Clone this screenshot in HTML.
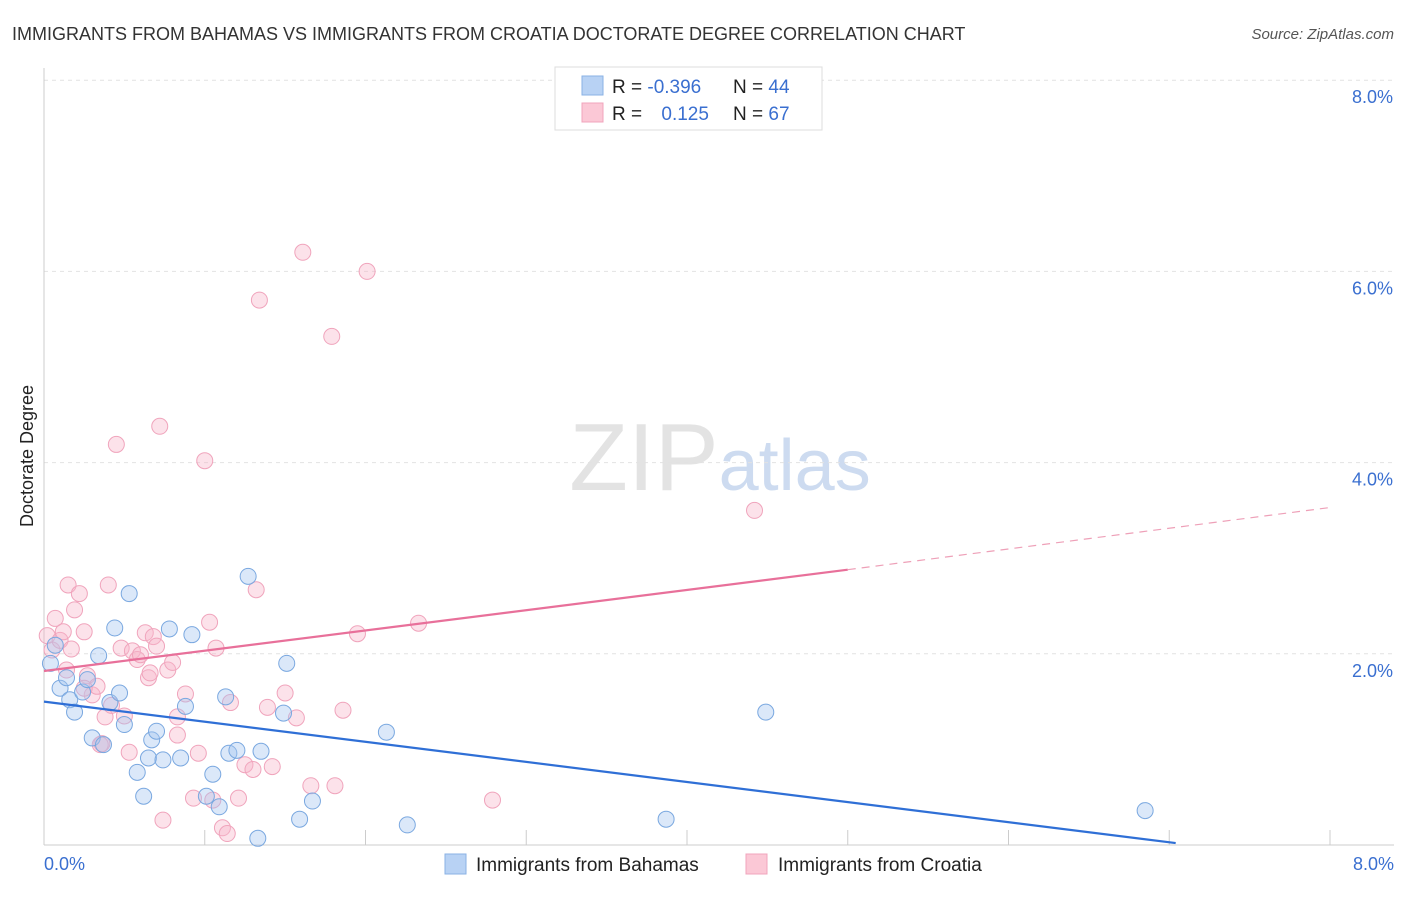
<!DOCTYPE html>
<html><head><meta charset="utf-8">
<style>
body{margin:0;background:#fff;font-family:"Liberation Sans",sans-serif;}
svg text{font-family:"Liberation Sans",sans-serif;}
</style></head>
<body>
<svg id="chart" width="1406" height="892" xmlns="http://www.w3.org/2000/svg">
<text x="12" y="40" font-size="18" fill="#333">IMMIGRANTS FROM BAHAMAS VS IMMIGRANTS FROM CROATIA DOCTORATE DEGREE CORRELATION CHART</text>
<text x="1394" y="39" font-size="15" fill="#555" text-anchor="end" font-style="italic">Source: ZipAtlas.com</text>
<text x="720" y="490" font-size="96" text-anchor="middle" fill="#d8d8d8" font-family="Liberation Serif" opacity="0.7">ZIP<tspan fill="#b8cdea" font-family="Liberation Sans" font-size="72">atlas</tspan></text>
<text transform="translate(33,456) rotate(-90)" font-size="18" fill="#222" text-anchor="middle">Doctorate Degree</text>
<g id="grid"></g><g id="marks"></g><g id="lines"></g>
<g>
<rect x="555" y="67" width="267" height="63" fill="#fff" stroke="#ddd"/>
<rect x="582" y="76" width="21" height="19" fill="#b8d2f4" stroke="#8ab2e4"/>
<rect x="582" y="103" width="21" height="19" fill="#fbc8d6" stroke="#f0a4bc"/>
<text x="612" y="93" font-size="19" fill="#222">R = <tspan fill="#3a6fd0">-0.396</tspan></text>
<text x="733" y="93" font-size="19" fill="#222">N = <tspan fill="#3a6fd0">44</tspan></text>
<text x="612" y="120" font-size="19" fill="#222">R = <tspan fill="#3a6fd0" dx="14">0.125</tspan></text>
<text x="733" y="120" font-size="19" fill="#222">N = <tspan fill="#3a6fd0">67</tspan></text>
</g>
<g>
<rect x="445" y="854" width="21" height="20" fill="#b8d2f4" stroke="#8ab2e4"/>
<text x="476" y="871" font-size="19" fill="#222">Immigrants from Bahamas</text>
<rect x="746" y="854" width="21" height="20" fill="#fbc8d6" stroke="#f0a4bc"/>
<text x="778" y="871" font-size="19" fill="#222">Immigrants from Croatia</text>
</g>
</svg>
<script>
const xTicks=[0,1,2,3,4,5,6,7,8];
const yTicks=[2,4,6,8];
const yTickLabels=["2.0%","4.0%","6.0%","8.0%"];
const xEndLabels=["0.0%","8.0%"];
const bahamasX=[0.04,0.07,0.10,0.14,0.16,0.19,0.24,0.27,0.30,0.34,0.37,0.41,0.44,0.47,0.50,0.53,0.58,0.62,0.65,0.67,0.70,0.74,0.78,0.85,0.88,0.92,1.05,1.01,1.09,1.13,1.15,1.20,1.27,1.33,1.35,1.49,1.51,1.59,1.67,2.13,2.26,3.87,4.49,6.85];
const bahamasY=[1.90,2.09,1.64,1.75,1.52,1.39,1.60,1.73,1.12,1.98,1.05,1.49,2.27,1.59,1.26,2.63,0.76,0.51,0.91,1.10,1.19,0.89,2.26,0.91,1.45,2.20,0.74,0.51,0.40,1.55,0.96,0.99,2.81,0.07,0.98,1.38,1.90,0.27,0.46,1.18,0.21,0.27,1.39,0.36];
const croatiaX=[0.02,0.05,0.07,0.10,0.12,0.15,0.17,0.19,0.22,0.25,0.27,0.30,0.33,0.36,0.38,0.40,0.42,0.45,0.48,0.50,0.53,0.55,0.58,0.60,0.63,0.65,0.66,0.68,0.70,0.72,0.74,0.77,0.80,0.83,0.88,0.93,0.96,1.00,1.03,1.05,1.07,1.11,1.14,1.16,1.21,1.25,1.30,1.32,1.34,1.39,1.42,1.50,1.57,1.61,1.66,1.79,1.81,1.86,1.95,2.01,2.33,2.79,4.42,0.25,0.14,0.35,0.83];
const croatiaY=[2.19,2.04,2.37,2.14,2.23,2.72,2.05,2.46,2.63,2.23,1.77,1.57,1.66,1.06,1.34,2.72,1.46,4.19,2.06,1.35,0.97,2.03,1.94,1.99,2.22,1.75,1.80,2.18,2.08,4.38,0.26,1.83,1.91,1.34,1.58,0.49,0.96,4.02,2.33,0.47,2.06,0.18,0.12,1.49,0.49,0.84,0.79,2.67,5.70,1.44,0.82,1.59,1.33,6.20,0.62,5.32,0.62,1.41,2.21,6.00,2.32,0.47,3.50,1.64,1.83,1.05,1.15];
const bahamasTrend=[[0,1.50],[7.04,0.02]];
const croatiaTrendSolid=[[0,1.82],[5.0,2.88]];
const croatiaTrendDash=[[5.0,2.88],[8.0,3.53]];
const NS="http://www.w3.org/2000/svg";
const X=v=>44+v*160.75, Y=v=>845-v*95.6;
function mk(tag,attrs,parent){const e=document.createElementNS(NS,tag);for(const k in attrs)e.setAttribute(k,attrs[k]);parent.appendChild(e);return e;}
const grid=document.getElementById('grid'),marks=document.getElementById('marks'),lines=document.getElementById('lines');
yTicks.forEach((t,i)=>{
 const l=mk('line',{x1:44,x2:1394,y1:Y(t),y2:Y(t),stroke:'#e2e2e2','stroke-dasharray':'4,4'},grid);
 
 
 const tx=mk('text',{x:1393,y:Y(t)+23,'font-size':18,fill:'#3a6fd0','text-anchor':'end'},grid);
 tx.textContent=yTickLabels[i];
 
 
});
const ax=mk('line',{x1:44,x2:44,y1:68,y2:845,stroke:'#ccc'},grid);


const bx=mk('line',{x1:44,x2:1394,y1:845,y2:845,stroke:'#ccc'},grid);


xTicks.forEach(t=>{
 const l=mk('line',{x1:X(t),x2:X(t),y1:830,y2:845,stroke:'#ccc'},grid);
 
 
});
[[0,'start',44],[8,'end',1394]].forEach((d,i)=>{
 const tx=mk('text',{x:d[2],y:870,'font-size':18,fill:'#3a6fd0','text-anchor':d[1]},grid);
 tx.textContent=xEndLabels[i];
 
 
});
croatiaX.forEach((v,i)=>{
 const c=mk('circle',{cx:X(v),cy:Y(croatiaY[i]),r:8,fill:'rgba(248,182,202,0.4)',stroke:'#f0a4bc','stroke-width':1},marks);
 
 
});
bahamasX.forEach((v,i)=>{
 const c=mk('circle',{cx:X(v),cy:Y(bahamasY[i]),r:8,fill:'rgba(164,198,240,0.4)',stroke:'#7aa8e0','stroke-width':1},marks);
 
 
});
function seg(p,attrs,name){const l=mk('line',Object.assign({x1:X(p[0][0]),y1:Y(p[0][1]),x2:X(p[1][0]),y2:Y(p[1][1])},attrs),lines);
 
 }
seg(bahamasTrend,{stroke:'#2f6fd6','stroke-width':2.2},'bahamas-trendline');
seg(croatiaTrendSolid,{stroke:'#e8709a','stroke-width':2.2},'croatia-trendline');
seg(croatiaTrendDash,{stroke:'#eea0b8','stroke-width':1.2,'stroke-dasharray':'8,6'},'croatia-trendline-extension');
</script>
</body></html>
